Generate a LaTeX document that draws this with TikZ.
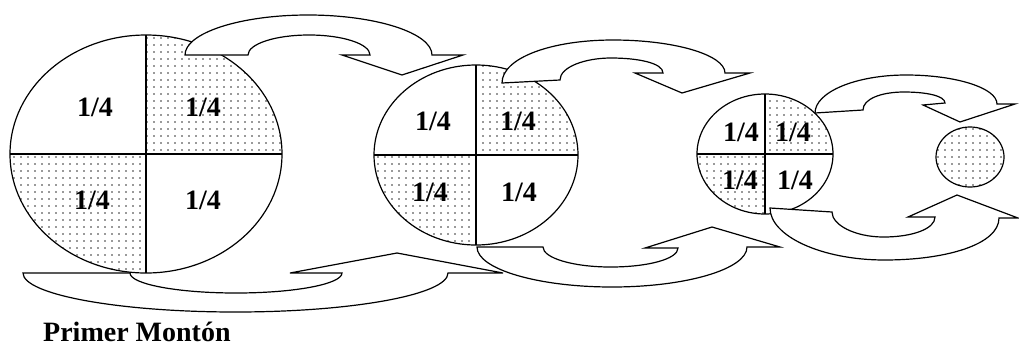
\documentclass[tikz,border=0pt]{standalone}
\usepackage{fontspec}
\setmainfont{Liberation Serif}
\usetikzlibrary{patterns.meta}
\tikzset{
  outline/.style={draw=black, line width=1.2pt},
  dotfill/.style={pattern={Dots[distance=7pt,radius=0.8pt]}, pattern color=black!80},
  blockarrow/.style={draw=black, line width=1.2pt, fill=white, line join=miter},
  quarter/.style={font=\bfseries\fontsize{28}{30}\selectfont, inner sep=0pt},
  title/.style={font=\bfseries\fontsize{28}{30}\selectfont, inner sep=0pt, anchor=base west}
}
\newcommand{\pie}[4]{%
  \fill[white] (#1,#2) ellipse [x radius=#3, y radius=#4];
  \begin{scope}
    \clip (#1,#2) ellipse [x radius=#3, y radius=#4];
    \fill[dotfill] (#1,#2) rectangle ++(#3,-#4);
    \fill[dotfill] (#1,#2) rectangle ++(-#3,#4);
  \end{scope}
  \draw[outline] (#1,#2) ellipse [x radius=#3, y radius=#4];
  \draw[outline] (#1,#2-#4) -- (#1,#2+#4);
  \draw[outline] (#1-#3,#2) -- (#1+#3,#2);
}
\begin{document}
\begin{tikzpicture}[x=1pt,y=-1pt]
\useasboundingbox (0,0) rectangle (1019,346);
\fill[white] (0,0) rectangle (1019,346);

% circles
\pie{146}{154}{136}{119}
\pie{476}{155}{102}{90}
\pie{765}{154}{68}{60}
\fill[dotfill] (970,157) ellipse [x radius=34, y radius=30];
\draw[outline] (970,157) ellipse [x radius=34, y radius=30];

% labels
\node[quarter] (a1) at (95,107) {1/4};
\node[quarter] (a2) at (203,107) {1/4};
\node[quarter] (a3) at (92,200) {1/4};
\node[quarter] (a4) at (203,200) {1/4};
\node[quarter] (b1) at (433,121) {1/4};
\node[quarter] (b2) at (518,121) {1/4};
\node[quarter] (b3) at (430,192) {1/4};
\node[quarter] (b4) at (519,192) {1/4};
\node[quarter] (c1) at (741,132) {1/4};
\node[quarter] (c2) at (793,132) {1/4};
\node[quarter] (c3) at (740,180) {1/4};
\node[quarter] (c4) at (795,180) {1/4};

% top arrow 1
\draw[blockarrow] (185,55) -- (248,55)
  .. controls (248,44) and (275,35) .. (309,35)
  .. controls (343,35) and (370,44) .. (370,55)
  -- (342,55) -- (402,75) -- (463,55) -- (432,55)
  .. controls (432,33) and (376,15) .. (308,15)
  .. controls (240,15) and (185,33) .. (185,55) -- cycle;

% top arrow 2
\draw[blockarrow] (502,83) -- (560,80)
  .. controls (560,67) and (585,58) .. (611,58)
  .. controls (638,58) and (663,63) .. (663,73)
  -- (635,73) -- (682,93) -- (750,73) -- (725,73)
  .. controls (725,55) and (675,40) .. (613,40)
  .. controls (551,40) and (502,58) .. (502,83) -- cycle;

% top arrow 3
\draw[blockarrow] (815,113) -- (863,110)
  .. controls (863,99) and (881,92) .. (904,92)
  .. controls (927,92) and (945,96) .. (945,103)
  -- (923,105) -- (960,122) -- (1015,104) -- (997,104)
  .. controls (997,88) and (956,75) .. (906,75)
  .. controls (856,75) and (815,92) .. (815,113) -- cycle;

% bottom arrow 1
\draw[blockarrow] (23,273) -- (130,273)
  .. controls (130,284) and (177,293) .. (236,293)
  .. controls (295,293) and (342,284) .. (342,273)
  -- (290,273) -- (397,253) -- (503,273) -- (448,273)
  .. controls (448,294.5) and (353,312) .. (235.5,312)
  .. controls (118,312) and (23,294.5) .. (23,273) -- cycle;

% bottom arrow 2
\draw[blockarrow] (477,247) -- (543,247)
  .. controls (543,258) and (573,267) .. (610.5,267)
  .. controls (648,267) and (678,259) .. (678,248)
  -- (645,248) -- (712,227) -- (780,247) -- (747,247)
  .. controls (747,269) and (686.5,287) .. (612,287)
  .. controls (537.5,287) and (477,269) .. (477,247) -- cycle;

% bottom arrow 3
\draw[blockarrow] (770,208) -- (832,212)
  .. controls (832,225) and (855,237) .. (883.5,237)
  .. controls (912,237) and (935,229) .. (935,217)
  -- (908,217) -- (957,195) -- (1018,218) -- (999,218)
  .. controls (999,244) and (947.5,260) .. (884.5,260)
  .. controls (821.5,260) and (770,236) .. (770,208) -- cycle;

% caption
\node[title] (caption) at (43,341) {Primer Montón};
\end{tikzpicture}
\end{document}
